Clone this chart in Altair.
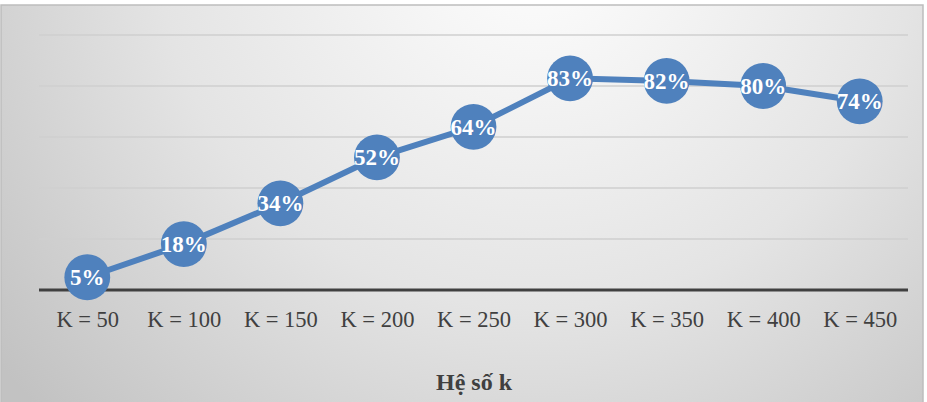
import altair as alt
import pandas as pd

categories = ["K = 50", "K = 100", "K = 150", "K = 200", "K = 250",
              "K = 300", "K = 350", "K = 400", "K = 450"]
values = [0.05, 0.18, 0.34, 0.52, 0.64, 0.83, 0.82, 0.80, 0.74]
grid_values = [0.2, 0.4, 0.6, 0.8, 1.0]
x_title = "Hệ số k"

df = pd.DataFrame({"k": categories, "v": values})
grid_df = pd.DataFrame({"g": grid_values})
base_df = pd.DataFrame({"g": [0.0]})

W, H = 869, 255
PL, PT, PR, PB = 39, 35, 19, 112

blue = "#4F81BD"
serif = "Liberation Serif"

yscale = alt.Scale(domain=[0, 1])
xscale = alt.Scale(type="point", padding=0.5)

gradient = alt.RadialGradient(
    gradient="radial",
    stops=[alt.GradientStop(offset=0, color="#ffffff"),
           alt.GradientStop(offset=0.55, color="#e4e4e4"),
           alt.GradientStop(offset=1, color="#c2c2c2")],
    x1=0.58, y1=0.2, r1=0, x2=0.58, y2=0.2, r2=0.75,
)

bg = alt.Chart(base_df).mark_rect(
    fill=gradient, stroke="#bdbdbd", strokeWidth=1.5
).encode(
    x=alt.value(-PL + 1), x2=alt.value(W + PR - 4),
    y=alt.value(-PT + 5), y2=alt.value(H + PB + 2),
)

grid = alt.Chart(grid_df).mark_rule(color="#cfcfcf", strokeWidth=1.3).encode(
    y=alt.Y("g:Q", scale=yscale, axis=None),
    x=alt.value(0), x2=alt.value(W),
)

baseline = alt.Chart(base_df).mark_rule(color="#404040", strokeWidth=3).encode(
    y=alt.Y("g:Q", scale=yscale, axis=None),
    x=alt.value(0), x2=alt.value(W),
)

xenc = alt.X(
    "k:N", sort=categories, scale=xscale,
    axis=alt.Axis(
        domain=False, ticks=False, grid=False, labelAngle=0,
        labelFont=serif, labelFontSize=22.5, labelColor="#404040",
        labelPadding=18, title=x_title, titleFont=serif,
        titleFontSize=24, titleFontWeight="bold", titleColor="#404040",
        titlePadding=40, zindex=1,
    ),
)
yenc = alt.Y("v:Q", scale=yscale, axis=None)

base = alt.Chart(df).encode(x=xenc, y=yenc)
line = base.mark_line(color=blue, strokeWidth=6)
pts = base.mark_circle(size=2100, color=blue, opacity=1)
txt = base.mark_text(
    font=serif, fontSize=23, fontWeight="bold", color="white",
    baseline="middle", dy=1,
).encode(text=alt.Text("v:Q", format=".0%"))

chart = alt.layer(bg, grid, baseline, line, pts, txt).properties(
    width=W, height=H,
    padding={"left": PL, "top": PT, "right": PR, "bottom": PB},
    autosize="none",
    background="white",
).configure_view(stroke=None)

chart.save("out.html", embed_options={"renderer": "svg", "actions": False})
